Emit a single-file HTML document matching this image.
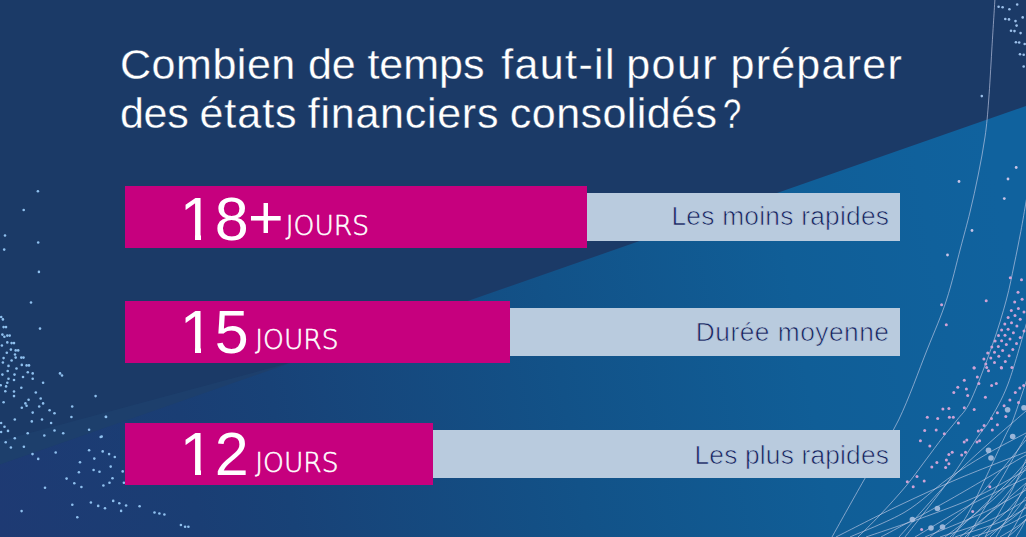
<!DOCTYPE html>
<html lang="fr">
<head>
<meta charset="utf-8">
<title>Combien de temps faut-il pour préparer des états financiers consolidés ?</title>
<style>
html,body{margin:0;padding:0;}
body{width:1026px;height:537px;overflow:hidden;background:#1b3a67;font-family:"Liberation Sans","DejaVu Sans",sans-serif;}
#stage{position:relative;width:1026px;height:537px;overflow:hidden;background:#1b3a67;}
#bg{position:absolute;left:0;top:0;width:1026px;height:537px;}
.title{position:absolute;left:0;top:0;width:1026px;height:150px;margin:0;color:#fff;font-weight:400;font-size:43px;line-height:43px;-webkit-text-stroke:0.3px #1b3a67;}
.title span{position:absolute;white-space:nowrap;}
.l1{top:43px;}
.l2{top:92px;}
.bar{position:absolute;left:125px;background:#c6007e;height:62px;}
.lbar{position:absolute;background:#b9cbde;height:48px;}
.num{position:absolute;left:179.8px;color:#fff;font-size:61px;line-height:61px;white-space:nowrap;}
.num::before,.num::after{content:"";position:absolute;top:46.2px;height:6px;background:#c6007e;}
.num::before{left:3.2px;width:12px;}
.num::after{left:21.4px;width:11.6px;}
.jours{position:absolute;color:#fff;font-family:"DejaVu Sans Light","DejaVu Sans","Liberation Sans",sans-serif;font-weight:200;font-size:26.5px;line-height:26.5px;white-space:nowrap;-webkit-text-stroke:0.55px #fff;}
.lab{position:absolute;color:#18235f;font-size:26.3px;line-height:26.3px;white-space:nowrap;-webkit-text-stroke:0.7px #b9cbde;}
</style>
</head>
<body>
<div id="stage">
<svg id="bg" width="1026" height="537" viewBox="0 0 1026 537">
  <defs>
    <linearGradient id="g1" gradientUnits="userSpaceOnUse" x1="0" y1="537" x2="1026" y2="357">
      <stop offset="0" stop-color="#1e3a73"/>
      <stop offset="0.19" stop-color="#1a3e74"/>
      <stop offset="0.28" stop-color="#184277"/>
      <stop offset="0.557" stop-color="#125288"/>
      <stop offset="0.79" stop-color="#105e97"/>
      <stop offset="0.93" stop-color="#10619c"/>
      <stop offset="1" stop-color="#10629e"/>
    </linearGradient>
  </defs>
  <rect width="1026" height="537" fill="#1b3a67"/>
  <polygon points="0,464.5 0,441 300,360" fill="#2a6c9c" fill-opacity="0.11"/>
  <polygon points="0,464.5 1026,106 1026,537 0,537" fill="url(#g1)"/>
<!--DECO-->
<g fill="#8fc0ee">
<circle cx="37.9" cy="191.2" r="1.3"/>
<circle cx="23.7" cy="210.0" r="1.3"/>
<circle cx="5.0" cy="235.5" r="1.3"/>
<circle cx="38.2" cy="242.5" r="1.3"/>
<circle cx="4.2" cy="249.6" r="1.3"/>
<circle cx="38.9" cy="271.9" r="1.3"/>
<circle cx="31.0" cy="302.5" r="1.3"/>
<circle cx="40.0" cy="328.6" r="1.3"/>
<circle cx="1.2" cy="317.0" r="1.3"/>
<circle cx="2.9" cy="319.4" r="1.3"/>
<circle cx="3.6" cy="327.1" r="1.3"/>
<circle cx="6.0" cy="327.1" r="1.3"/>
<circle cx="2.4" cy="334.6" r="1.3"/>
<circle cx="4.4" cy="336.8" r="1.3"/>
<circle cx="7.3" cy="335.6" r="1.3"/>
<circle cx="9.7" cy="335.6" r="1.3"/>
<circle cx="7.3" cy="342.4" r="1.3"/>
<circle cx="11.6" cy="343.1" r="1.3"/>
<circle cx="14.0" cy="343.1" r="1.3"/>
<circle cx="1.9" cy="345.5" r="1.3"/>
<circle cx="10.9" cy="349.6" r="1.3"/>
<circle cx="15.7" cy="350.4" r="1.3"/>
<circle cx="18.2" cy="350.4" r="1.3"/>
<circle cx="6.8" cy="352.8" r="1.3"/>
<circle cx="15.0" cy="354.5" r="1.3"/>
<circle cx="3.6" cy="358.1" r="1.3"/>
<circle cx="15.7" cy="357.6" r="1.3"/>
<circle cx="21.3" cy="357.6" r="1.3"/>
<circle cx="23.5" cy="357.6" r="1.3"/>
<circle cx="11.6" cy="360.5" r="1.3"/>
<circle cx="2.9" cy="362.5" r="1.3"/>
<circle cx="8.5" cy="365.9" r="1.3"/>
<circle cx="21.8" cy="364.9" r="1.3"/>
<circle cx="26.6" cy="365.4" r="1.3"/>
<circle cx="29.0" cy="365.4" r="1.3"/>
<circle cx="16.5" cy="368.5" r="1.3"/>
<circle cx="7.7" cy="371.0" r="1.3"/>
<circle cx="27.8" cy="372.2" r="1.3"/>
<circle cx="32.7" cy="373.4" r="1.3"/>
<circle cx="60.0" cy="373.4" r="1.3"/>
<circle cx="62.0" cy="375.5" r="1.3"/>
<circle cx="2.4" cy="374.6" r="1.3"/>
<circle cx="14.5" cy="374.6" r="1.3"/>
<circle cx="23.0" cy="377.0" r="1.3"/>
<circle cx="32.7" cy="378.7" r="1.3"/>
<circle cx="8.5" cy="378.7" r="1.3"/>
<circle cx="14.0" cy="380.0" r="1.3"/>
<circle cx="7.3" cy="382.8" r="1.3"/>
<circle cx="43.1" cy="382.8" r="1.3"/>
<circle cx="0.7" cy="385.2" r="1.3"/>
<circle cx="6.1" cy="386.4" r="1.3"/>
<circle cx="21.3" cy="387.7" r="1.3"/>
<circle cx="5.3" cy="391.3" r="1.3"/>
<circle cx="14.0" cy="391.5" r="1.3"/>
<circle cx="35.8" cy="392.5" r="1.3"/>
<circle cx="14.0" cy="396.1" r="1.3"/>
<circle cx="95.6" cy="396.1" r="1.3"/>
<circle cx="40.7" cy="398.5" r="1.3"/>
<circle cx="28.6" cy="399.8" r="1.3"/>
<circle cx="3.6" cy="402.2" r="1.3"/>
<circle cx="25.4" cy="403.4" r="1.3"/>
<circle cx="43.1" cy="403.4" r="1.3"/>
<circle cx="26.6" cy="405.8" r="1.3"/>
<circle cx="39.2" cy="406.5" r="1.3"/>
<circle cx="21.8" cy="407.7" r="1.3"/>
<circle cx="72.2" cy="406.5" r="1.3"/>
<circle cx="49.6" cy="410.2" r="1.3"/>
<circle cx="32.7" cy="412.6" r="1.3"/>
<circle cx="54.5" cy="413.3" r="1.3"/>
<circle cx="106.0" cy="417.0" r="1.3"/>
<circle cx="71.4" cy="417.0" r="1.3"/>
<circle cx="14.8" cy="419.5" r="1.3"/>
<circle cx="31.8" cy="421.4" r="1.3"/>
<circle cx="42.0" cy="419.5" r="1.3"/>
<circle cx="51.1" cy="423.0" r="1.3"/>
<circle cx="1.1" cy="423.0" r="1.3"/>
<circle cx="4.5" cy="426.8" r="1.3"/>
<circle cx="8.0" cy="430.9" r="1.3"/>
<circle cx="1.1" cy="432.0" r="1.3"/>
<circle cx="27.7" cy="433.2" r="1.3"/>
<circle cx="54.5" cy="430.5" r="1.3"/>
<circle cx="63.2" cy="433.2" r="1.3"/>
<circle cx="89.1" cy="429.8" r="1.3"/>
<circle cx="44.3" cy="435.5" r="1.3"/>
<circle cx="100.7" cy="437.0" r="1.3"/>
<circle cx="14.8" cy="438.2" r="1.3"/>
<circle cx="5.7" cy="442.3" r="1.3"/>
<circle cx="10.9" cy="447.5" r="1.3"/>
<circle cx="23.9" cy="446.8" r="1.3"/>
<circle cx="32.5" cy="454.1" r="1.3"/>
<circle cx="38.2" cy="458.9" r="1.3"/>
<circle cx="55.7" cy="452.5" r="1.3"/>
<circle cx="89.1" cy="450.2" r="1.3"/>
<circle cx="102.7" cy="451.4" r="1.3"/>
<circle cx="109.1" cy="454.1" r="1.3"/>
<circle cx="114.8" cy="457.0" r="1.3"/>
<circle cx="94.3" cy="458.6" r="1.3"/>
<circle cx="80.0" cy="462.3" r="1.3"/>
<circle cx="110.7" cy="466.6" r="1.3"/>
<circle cx="93.6" cy="470.0" r="1.3"/>
<circle cx="99.5" cy="471.8" r="1.3"/>
<circle cx="78.9" cy="472.3" r="1.3"/>
<circle cx="122.7" cy="471.4" r="1.3"/>
<circle cx="66.6" cy="478.6" r="1.3"/>
<circle cx="112.5" cy="478.2" r="1.3"/>
<circle cx="74.3" cy="483.2" r="1.3"/>
<circle cx="109.5" cy="482.7" r="1.3"/>
<circle cx="103.4" cy="485.5" r="1.3"/>
<circle cx="81.4" cy="487.0" r="1.3"/>
<circle cx="45.0" cy="487.7" r="1.3"/>
<circle cx="123.9" cy="482.7" r="1.3"/>
<circle cx="90.9" cy="502.5" r="1.3"/>
<circle cx="72.3" cy="504.8" r="1.3"/>
<circle cx="98.2" cy="505.9" r="1.3"/>
<circle cx="105.0" cy="508.2" r="1.3"/>
<circle cx="113.2" cy="500.9" r="1.3"/>
<circle cx="119.3" cy="503.2" r="1.3"/>
<circle cx="126.1" cy="505.5" r="1.3"/>
<circle cx="121.1" cy="510.9" r="1.3"/>
<circle cx="21.6" cy="511.1" r="1.3"/>
<circle cx="77.3" cy="517.3" r="1.3"/>
<circle cx="105.9" cy="416.8" r="1.3"/>
<circle cx="101.7" cy="436.6" r="1.3"/>
<circle cx="139.6" cy="506.2" r="1.3"/>
<circle cx="154.5" cy="512.5" r="1.3"/>
<circle cx="159.4" cy="513.5" r="1.3"/>
<circle cx="164.4" cy="514.5" r="1.3"/>
<circle cx="180.9" cy="525.0" r="1.3"/>
<circle cx="185.1" cy="526.7" r="1.3"/>
<circle cx="188.4" cy="526.7" r="1.3"/>
</g>
<g fill="#9cc0ea">
<circle cx="998.6" cy="6.7" r="1.3"/>
<circle cx="1002.6" cy="7.2" r="1.3"/>
<circle cx="1009.4" cy="9.2" r="1.3"/>
<circle cx="1017.2" cy="4.5" r="1.3"/>
<circle cx="1005.3" cy="19.0" r="1.3"/>
<circle cx="1009.0" cy="19.4" r="1.3"/>
<circle cx="1015.5" cy="21.1" r="1.3"/>
<circle cx="1022.7" cy="17.4" r="1.3"/>
<circle cx="1016.6" cy="25.6" r="1.3"/>
<circle cx="1011.0" cy="30.7" r="1.3"/>
<circle cx="1014.5" cy="31.1" r="1.3"/>
<circle cx="1020.6" cy="33.1" r="1.3"/>
<circle cx="1015.9" cy="42.3" r="1.3"/>
<circle cx="1019.2" cy="42.5" r="1.3"/>
<circle cx="1024.7" cy="44.0" r="1.3"/>
<circle cx="1020.0" cy="54.2" r="1.3"/>
<circle cx="1023.7" cy="54.8" r="1.3"/>
<circle cx="1023.7" cy="66.5" r="1.3"/>
<circle cx="981.8" cy="96.1" r="1.3"/>
</g>
<g fill="#c9c3e6">
<circle cx="1016.2" cy="167.5" r="1.4"/>
<circle cx="1008.0" cy="179.0" r="1.4"/>
<circle cx="1004.3" cy="198.6" r="1.4"/>
<circle cx="972.0" cy="230.5" r="1.4"/>
<circle cx="947.5" cy="255.0" r="1.4"/>
<circle cx="959.0" cy="181.5" r="1.4"/>
</g>
<g fill="none" stroke="#c9cfe9" stroke-opacity="0.66" stroke-width="0.95">
<path d="M995.0,-2.0C994.5,6.7 992.8,33.0 991.8,50.0C990.8,67.0 989.8,85.5 988.7,100.0C987.6,114.5 986.8,124.5 985.0,137.0C983.2,149.5 980.7,162.5 978.2,175.0C975.7,187.5 973.0,199.7 970.0,212.0C967.0,224.3 964.2,234.3 960.3,249.0C956.4,263.7 952.0,283.2 946.5,300.0C941.0,316.8 935.0,330.0 927.0,350.0C919.0,370.0 909.1,398.3 898.6,420.0C888.1,441.7 875.1,460.5 864.0,480.0C852.9,499.5 837.3,527.5 832.0,537.0"/>
<path d="M1028.0,190.0C1027.7,192.0 1027.2,195.1 1026.0,202.0C1024.8,208.9 1022.8,221.0 1020.8,231.5C1018.8,242.0 1016.5,253.6 1014.1,265.0C1011.7,276.4 1009.9,286.7 1006.3,300.0C1002.7,313.3 998.3,328.3 992.4,345.0C986.5,361.7 976.9,387.5 971.0,400.0C965.1,412.5 961.7,413.8 957.0,420.0C952.3,426.2 948.3,430.2 943.0,437.0C937.7,443.8 931.2,452.8 925.0,461.0C918.8,469.2 913.5,477.0 906.0,486.0C898.5,495.0 888.0,506.5 880.0,515.0C872.0,523.5 861.7,533.3 858.0,537.0"/>
<path d="M1028.0,318.0C1024.7,329.0 1014.4,367.0 1008.0,384.0C1001.6,401.0 994.8,411.2 989.8,420.0C984.8,428.8 984.5,426.9 977.7,437.0C970.9,447.1 960.8,464.4 948.8,480.8C936.8,497.2 913.5,526.2 906.0,535.7C898.5,545.2 904.3,537.6 904.0,538.0"/>
<path d="M1028.0,376.0C1025.5,383.3 1016.9,409.8 1013.0,420.0C1009.1,430.2 1011.7,422.4 1004.7,437.0C997.7,451.6 979.9,491.1 971.2,507.8C962.5,524.5 955.7,532.1 952.6,537.0"/>
<path d="M1028.0,432.0C1027.5,432.8 1031.0,426.9 1025.2,437.0C1019.5,447.1 1003.1,476.2 993.5,492.9C983.9,509.6 971.8,529.6 967.5,537.0"/>
<path d="M1028.0,455.0C1025.3,460.8 1019.2,476.3 1012.0,490.0C1004.8,503.7 989.5,529.2 985.0,537.0"/>
<path d="M1028.0,480.0C1025.8,484.2 1020.3,495.5 1015.0,505.0C1009.7,514.5 999.2,531.7 996.0,537.0"/>
<path d="M836.0,537.0C846.7,531.7 879.3,514.8 900.0,505.0C920.7,495.2 939.0,486.8 960.0,478.0C981.0,469.2 1015.0,456.3 1026.0,452.0"/>
<path d="M850.0,537.0C859.2,532.8 888.7,521.7 905.0,512.0C921.3,502.3 934.4,488.5 947.7,479.0C961.0,469.5 972.0,462.7 985.0,455.0C998.0,447.3 1019.2,436.7 1026.0,433.0"/>
<path d="M881.0,537.0C892.5,530.8 925.8,513.2 950.0,499.5C974.2,485.8 1013.3,462.4 1026.0,455.0"/>
<path d="M899.0,537.0C909.2,525.8 938.8,491.0 960.0,470.0C981.2,449.0 1015.0,420.8 1026.0,411.0"/>
<path d="M866.0,537.0C876.7,533.3 911.0,522.0 930.0,515.0C949.0,508.0 964.0,502.5 980.0,495.0C996.0,487.5 1018.3,474.2 1026.0,470.0"/>
<path d="M915.0,537.0C924.2,531.7 951.5,514.8 970.0,505.0C988.5,495.2 1016.7,482.5 1026.0,478.0"/>
<path d="M925.0,537.0C935.0,532.8 968.2,519.8 985.0,512.0C1001.8,504.2 1019.2,493.7 1026.0,490.0"/>
<path d="M940.0,537.0C948.3,534.2 975.7,526.2 990.0,520.0C1004.3,513.8 1020.0,503.3 1026.0,500.0"/>
<path d="M955.0,537.0C962.5,534.5 988.2,526.8 1000.0,522.0C1011.8,517.2 1021.7,510.3 1026.0,508.0"/>
<path d="M972.0,537.0C977.5,535.2 996.0,529.7 1005.0,526.0C1014.0,522.3 1022.5,516.8 1026.0,515.0"/>
<path d="M930.0,537.0C937.5,530.8 959.0,516.2 975.0,500.0C991.0,483.8 1017.5,450.0 1026.0,440.0"/>
<path d="M950.0,537.0C958.3,529.2 987.3,502.5 1000.0,490.0C1012.7,477.5 1021.7,466.7 1026.0,462.0"/>
<path d="M985.0,537.0C989.2,534.2 1003.2,525.0 1010.0,520.0C1016.8,515.0 1023.3,509.2 1026.0,507.0"/>
<path d="M960.0,537.0C966.7,531.7 989.0,514.0 1000.0,505.0C1011.0,496.0 1021.7,486.7 1026.0,483.0"/>
<path d="M1000.0,537.0C1002.5,535.5 1010.7,530.8 1015.0,528.0C1019.3,525.2 1024.2,521.3 1026.0,520.0"/>
<path d="M978.0,537.0C983.0,532.5 1000.0,518.2 1008.0,510.0C1016.0,501.8 1023.0,491.7 1026.0,488.0"/>
<path d="M990.0,537.0C993.7,533.3 1006.0,521.7 1012.0,515.0C1018.0,508.3 1023.7,500.0 1026.0,497.0"/>
<path d="M965.0,537.0C971.2,530.8 991.8,511.5 1002.0,500.0C1012.2,488.5 1022.0,473.3 1026.0,468.0"/>
<path d="M1008.0,537.0C1009.8,535.3 1016.0,530.0 1019.0,527.0C1022.0,524.0 1024.8,520.3 1026.0,519.0"/>
<path d="M945.0,537.0C953.3,530.5 981.5,509.8 995.0,498.0C1008.5,486.2 1020.8,471.3 1026.0,466.0"/>
<path d="M1028.0,500.0C1026.3,503.3 1021.3,513.8 1018.0,520.0C1014.7,526.2 1009.7,534.2 1008.0,537.0"/>
<path d="M1028.0,515.0C1027.0,517.0 1024.0,523.3 1022.0,527.0C1020.0,530.7 1017.0,535.3 1016.0,537.0"/>
</g>
<g fill="#cfa3d6">
<circle cx="1014.7" cy="302.0" r="1.5"/>
<circle cx="1011.3" cy="310.4" r="1.5"/>
<circle cx="1008.1" cy="317.5" r="1.5"/>
<circle cx="1004.8" cy="324.0" r="1.5"/>
<circle cx="1001.6" cy="330.0" r="1.5"/>
<circle cx="998.5" cy="335.5" r="1.5"/>
<circle cx="995.1" cy="341.1" r="1.5"/>
<circle cx="991.8" cy="346.9" r="1.5"/>
<circle cx="987.7" cy="352.9" r="1.5"/>
<circle cx="983.9" cy="359.0" r="1.5"/>
<circle cx="985.8" cy="364.0" r="1.5"/>
<circle cx="974.0" cy="367.8" r="1.5"/>
<circle cx="1021.5" cy="279.7" r="1.5"/>
<circle cx="1018.0" cy="292.3" r="1.5"/>
<circle cx="1018.4" cy="308.5" r="1.5"/>
<circle cx="1015.0" cy="315.6" r="1.5"/>
<circle cx="1011.5" cy="322.7" r="1.5"/>
<circle cx="1008.1" cy="329.2" r="1.5"/>
<circle cx="1005.0" cy="335.2" r="1.5"/>
<circle cx="1001.6" cy="340.8" r="1.5"/>
<circle cx="998.3" cy="346.4" r="1.5"/>
<circle cx="994.5" cy="352.3" r="1.5"/>
<circle cx="990.8" cy="357.9" r="1.5"/>
<circle cx="994.5" cy="362.5" r="1.5"/>
<circle cx="986.7" cy="367.4" r="1.5"/>
<circle cx="1022.1" cy="299.2" r="1.5"/>
<circle cx="1024.0" cy="311.9" r="1.5"/>
<circle cx="1020.2" cy="319.3" r="1.5"/>
<circle cx="1016.9" cy="325.9" r="1.5"/>
<circle cx="1013.4" cy="332.8" r="1.5"/>
<circle cx="1010.0" cy="338.9" r="1.5"/>
<circle cx="1006.3" cy="344.5" r="1.5"/>
<circle cx="1002.6" cy="350.4" r="1.5"/>
<circle cx="998.8" cy="356.2" r="1.5"/>
<circle cx="1005.3" cy="361.6" r="1.5"/>
<circle cx="1001.3" cy="367.4" r="1.5"/>
<circle cx="1010.3" cy="277.8" r="1.5"/>
<circle cx="1024.0" cy="330.9" r="1.5"/>
<circle cx="1020.2" cy="337.4" r="1.5"/>
<circle cx="1016.5" cy="343.6" r="1.5"/>
<circle cx="1012.8" cy="349.5" r="1.5"/>
<circle cx="1009.1" cy="355.7" r="1.5"/>
<circle cx="1011.9" cy="367.4" r="1.5"/>
<circle cx="986.2" cy="300.7" r="1.5"/>
<circle cx="941.6" cy="304.8" r="1.5"/>
<circle cx="946.3" cy="324.8" r="1.5"/>
<circle cx="974.2" cy="368.0" r="1.5"/>
<circle cx="988.5" cy="370.7" r="1.5"/>
<circle cx="1001.5" cy="368.0" r="1.5"/>
<circle cx="964.3" cy="380.3" r="1.5"/>
<circle cx="977.3" cy="376.9" r="1.5"/>
<circle cx="991.6" cy="385.5" r="1.5"/>
<circle cx="996.3" cy="383.4" r="1.5"/>
<circle cx="978.9" cy="383.4" r="1.5"/>
<circle cx="957.8" cy="387.3" r="1.5"/>
<circle cx="966.4" cy="388.9" r="1.5"/>
<circle cx="953.8" cy="392.6" r="1.5"/>
<circle cx="967.7" cy="395.4" r="1.5"/>
<circle cx="985.4" cy="397.2" r="1.5"/>
<circle cx="1023.7" cy="385.5" r="1.5"/>
<circle cx="1019.8" cy="388.1" r="1.5"/>
<circle cx="1015.3" cy="392.6" r="1.5"/>
<circle cx="1009.9" cy="399.9" r="1.5"/>
<circle cx="1018.5" cy="402.5" r="1.5"/>
<circle cx="942.9" cy="409.0" r="1.5"/>
<circle cx="948.9" cy="408.5" r="1.5"/>
<circle cx="964.3" cy="407.7" r="1.5"/>
<circle cx="974.2" cy="409.5" r="1.5"/>
<circle cx="1004.1" cy="405.8" r="1.5"/>
<circle cx="997.4" cy="412.8" r="1.5"/>
<circle cx="927.3" cy="417.3" r="1.5"/>
<circle cx="937.7" cy="418.6" r="1.5"/>
<circle cx="949.4" cy="417.3" r="1.5"/>
<circle cx="953.3" cy="417.3" r="1.5"/>
<circle cx="958.4" cy="423.0" r="1.5"/>
<circle cx="991.5" cy="418.4" r="1.5"/>
<circle cx="1005.8" cy="416.6" r="1.5"/>
<circle cx="997.4" cy="424.8" r="1.5"/>
<circle cx="984.1" cy="425.5" r="1.5"/>
<circle cx="992.3" cy="429.9" r="1.5"/>
<circle cx="924.7" cy="430.6" r="1.5"/>
<circle cx="936.2" cy="429.9" r="1.5"/>
<circle cx="944.3" cy="433.7" r="1.5"/>
<circle cx="978.3" cy="431.1" r="1.5"/>
<circle cx="981.6" cy="430.1" r="1.5"/>
<circle cx="920.4" cy="440.8" r="1.5"/>
<circle cx="964.2" cy="442.1" r="1.5"/>
<circle cx="966.8" cy="440.1" r="1.5"/>
<circle cx="977.0" cy="442.1" r="1.5"/>
<circle cx="979.6" cy="440.8" r="1.5"/>
<circle cx="929.8" cy="445.9" r="1.5"/>
<circle cx="952.2" cy="452.3" r="1.5"/>
<circle cx="948.9" cy="454.4" r="1.5"/>
<circle cx="961.7" cy="454.9" r="1.5"/>
<circle cx="965.5" cy="452.3" r="1.5"/>
<circle cx="946.4" cy="460.0" r="1.5"/>
<circle cx="936.9" cy="462.5" r="1.5"/>
<circle cx="948.9" cy="463.8" r="1.5"/>
<circle cx="931.8" cy="466.9" r="1.5"/>
<circle cx="945.6" cy="467.6" r="1.5"/>
<circle cx="917.0" cy="476.6" r="1.5"/>
<circle cx="907.3" cy="481.7" r="1.5"/>
<circle cx="924.2" cy="480.9" r="1.5"/>
<circle cx="913.2" cy="486.8" r="1.5"/>
<circle cx="989.8" cy="486.8" r="1.5"/>
<circle cx="972.7" cy="511.5" r="1.5"/>
<circle cx="921.6" cy="529.4" r="1.5"/>
</g>
<g fill="#a9bfdf" fill-opacity="0.9">
<circle cx="1007.6" cy="409.7" r="2.8"/>
<circle cx="1012.7" cy="436.5" r="2.8"/>
<circle cx="988.5" cy="450.3" r="2.8"/>
<circle cx="991.0" cy="458.0" r="2.8"/>
<circle cx="937.4" cy="508.5" r="2.8"/>
<circle cx="912.4" cy="519.5" r="2.8"/>
<circle cx="931.0" cy="528.0" r="2.8"/>
<circle cx="942.5" cy="527.0" r="2.8"/>
<circle cx="1024.0" cy="407.7" r="2.8"/>
</g>
<!--/DECO-->
</svg>
<h1 class="title">
<span class="l1" style="left:120px;letter-spacing:0.53px;">Combien</span>
<span class="l1" style="left:308px;letter-spacing:-0.2px;">de</span>
<span class="l1" style="left:367.4px;letter-spacing:0px;">temps</span>
<span class="l1" style="left:501.3px;letter-spacing:1.35px;">faut-il</span>
<span class="l1" style="left:626.2px;letter-spacing:1.47px;">pour</span>
<span class="l1" style="left:730.5px;letter-spacing:1.24px;">préparer</span>
<span class="l2" style="left:120px;letter-spacing:-0.35px;">des</span>
<span class="l2" style="left:199.5px;letter-spacing:0.95px;">états</span>
<span class="l2" style="left:307.8px;letter-spacing:0.73px;">financiers</span>
<span class="l2" style="left:509.8px;letter-spacing:0.46px;">consolidés</span>
<span class="l2" style="left:722.9px;display:inline-block;transform:scaleX(0.76);transform-origin:0 0;">?</span>
</h1>

<div class="bar" style="top:186px;width:461.5px;"></div>
<div class="lbar" style="top:193px;left:586.5px;width:313.5px;height:48px;"></div>
<div class="num" style="top:188.6px;"><span style="letter-spacing:1px;">1</span><span style="letter-spacing:-0.8px;">8</span><span style="position:relative;top:-1.4px;">+</span></div>
<div class="jours" style="left:285.8px;top:213.4px;">JOURS</div>
<div class="lab" style="left:671.4px;top:203.4px;letter-spacing:0.26px;">Les moins rapides</div>

<div class="bar" style="top:301px;width:385px;"></div>
<div class="lbar" style="top:308px;left:510px;width:390px;"></div>
<div class="num" style="top:301.6px;letter-spacing:1px;">15</div>
<div class="jours" style="left:255.3px;top:327px;">JOURS</div>
<div class="lab" style="left:695.8px;top:319.1px;letter-spacing:0.5px;">Durée moyenne</div>

<div class="bar" style="top:423px;width:307.5px;"></div>
<div class="lbar" style="top:430px;left:432.5px;width:467.5px;"></div>
<div class="num" style="top:423.6px;letter-spacing:1px;">12</div>
<div class="jours" style="left:255.3px;top:449.8px;">JOURS</div>
<div class="lab" style="left:694.5px;top:441.6px;letter-spacing:0.19px;">Les plus rapides</div>
</div>
</body>
</html>
